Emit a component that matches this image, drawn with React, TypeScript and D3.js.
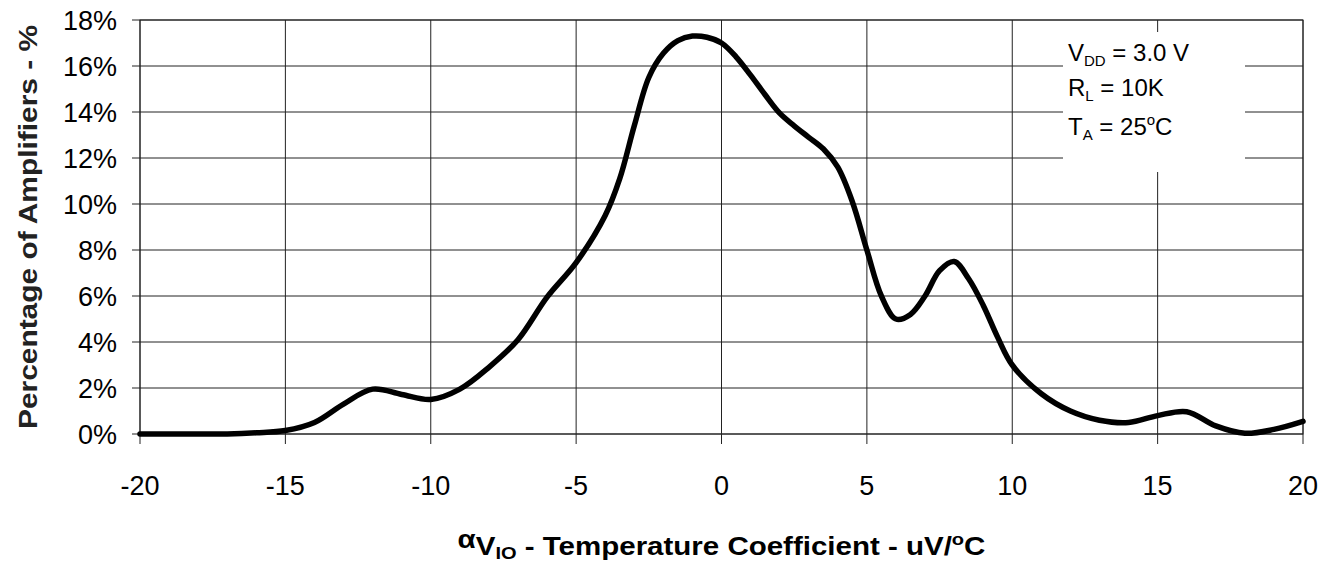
import React from "react";
import * as d3 from "d3";

const xValues = [-20, -18, -17, -16, -15, -14, -13, -12, -11, -10, -9, -8, -7, -6, -5, -4, -3.5, -3, -2.5, -2, -1.5, -1, -0.5, 0, 0.5, 1, 1.5, 2, 2.5, 3, 3.5, 4, 4.5, 5, 5.5, 6, 6.5, 7, 7.5, 8, 8.5, 9, 9.5, 10, 11, 12, 13, 14, 15, 16, 17, 18, 19, 20];
const pctValues = [0, 0, 0, 0.05, 0.15, 0.5, 1.3, 1.95, 1.72, 1.5, 1.95, 2.9, 4.1, 5.95, 7.45, 9.5, 11.1, 13.4, 15.5, 16.55, 17.1, 17.3, 17.25, 17.0, 16.4, 15.6, 14.75, 13.95, 13.4, 12.9, 12.4, 11.6, 10.1, 8.0, 6.0, 5.0, 5.2, 6.0, 7.1, 7.5, 6.75, 5.6, 4.2, 3.0, 1.75, 1.0, 0.6, 0.5, 0.8, 0.97, 0.35, 0.03, 0.2, 0.55];
const xTicks = [-20, -15, -10, -5, 0, 5, 10, 15, 20];
const yTicks = [0, 2, 4, 6, 8, 10, 12, 14, 16, 18];

const W = 1324, H = 564;
const L = 140, R = 1303, T = 20, B = 434;
const FONT = "'Liberation Sans', Arial, Helvetica, sans-serif";

export default function App() {
  const x = d3.scaleLinear().domain([-20, 20]).range([L, R]);
  const y = d3.scaleLinear().domain([0, 18]).range([B, T]);
  const pts: [number, number][] = xValues.map((v, i) => [v, pctValues[i]]);
  const line = d3.line<[number, number]>().x(d => x(d[0])).y(d => Math.min(B, y(d[1]))).curve(d3.curveCatmullRom.alpha(0.5));
  const cx = (L + R) / 2;
  const cy = (T + B) / 2;
  return (
    <svg width={W} height={H} style={{ position: "absolute", left: 0, top: 0, background: "#fff" }} fontFamily={FONT}>
      <rect x={0} y={0} width={W} height={H} fill="#fff" />
      {yTicks.map(t => (
        <g key={"y" + t}>
          <line x1={L - 8} x2={R} y1={y(t)} y2={y(t)} stroke="#222" strokeWidth={1} />
          <text x={117} y={y(t) + 10} textAnchor="end" fontSize={27} fill="#000">{t}%</text>
        </g>
      ))}
      {xTicks.map(t => (
        <g key={"x" + t}>
          <line x1={x(t)} x2={x(t)} y1={T} y2={B + 10} stroke="#222" strokeWidth={1} />
          <text x={x(t)} y={495} textAnchor="middle" fontSize={27} fill="#000">{t}</text>
        </g>
      ))}
      <rect x={L} y={T} width={R - L} height={B - T} fill="none" stroke="#222" strokeWidth={1} />
      <rect x={1063} y={32} width={182} height={140} fill="#fff" />
      <text x={1068} y={61} fontSize={24} fill="#000">
        V<tspan fontSize={15} dy={5}>DD</tspan><tspan dy={-5}> = 3.0 V</tspan>
      </text>
      <text x={1068} y={96} fontSize={24} fill="#000">
        R<tspan fontSize={15} dy={5}>L</tspan><tspan dy={-5}> = 10K</tspan>
      </text>
      <text x={1068} y={135} fontSize={24} fill="#000">
        T<tspan fontSize={15} dy={5}>A</tspan><tspan dy={-5}> = 25</tspan><tspan fontSize={15} dy={-10}>o</tspan><tspan dy={10}>C</tspan>
      </text>
      <path d={line(pts) || ""} fill="none" stroke="#000" strokeWidth={5.5} strokeLinejoin="round" strokeLinecap="round" />
      <g transform={`translate(${cx},555) scale(1.18,1)`}>
        <text x={0} y={0} textAnchor="middle" fontSize={25} fontWeight="bold" fill="#000">
          <tspan dy={-7}>α</tspan><tspan dy={7}>V</tspan><tspan fontSize={17} dy={4}>IO</tspan><tspan dy={-4}> - Temperature Coefficient - uV/</tspan><tspan fontSize={17} dy={-10}>o</tspan><tspan dy={10}>C</tspan>
        </text>
      </g>
      <g transform={`translate(37,${cy}) rotate(-90) scale(1.15,1)`}>
        <text x={0} y={0} textAnchor="middle" fontSize={26} fontWeight="bold" fill="#222">Percentage of Amplifiers - %</text>
      </g>
    </svg>
  );
}
